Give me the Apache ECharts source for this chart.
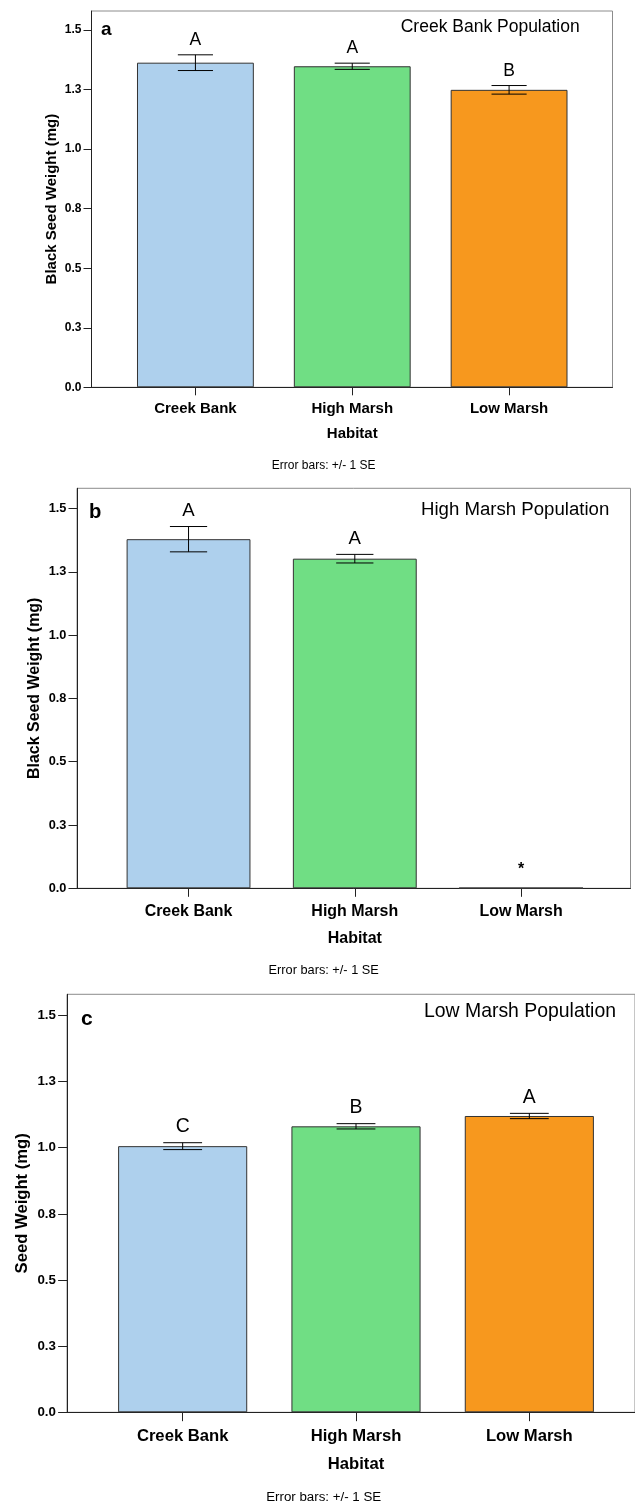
<!DOCTYPE html>
<html><head><meta charset="utf-8">
<script src="https://cdn.jsdelivr.net/npm/echarts@6/dist/echarts.min.js"></script>
<style>html,body{margin:0;padding:0;background:#fff}#c{width:635px;height:1505px}</style>
</head><body><div id="c"></div>
<script>
// ---- data ----
const categories = ['Creek Bank', 'High Marsh', 'Low Marsh'];
const yTicks = [0, 0.25, 0.5, 0.75, 1.0, 1.25, 1.5];
const yMax = 1.58;

const creekPopMeans = [1.363, 1.348, 1.249];
const creekPopSE = [0.033, 0.013, 0.018];
const creekPopLetters = ['A', 'A', 'B'];

const highPopMeans = [1.379, 1.302, 0];
const highPopSE = [0.050, 0.017, 0];
const highPopLetters = ['A', 'A', '*'];

const lowPopMeans = [1.006, 1.081, 1.120];
const lowPopSE = [0.013, 0.010, 0.010];
const lowPopLetters = ['C', 'B', 'A'];

const panelTitles = ['Creek Bank Population', 'High Marsh Population', 'Low Marsh Population'];
const panelTags = ['a', 'b', 'c'];
const yNames = ['Black Seed Weight (mg)', 'Black Seed Weight (mg)', 'Seed Weight (mg)'];
const xName = 'Habitat';
const noteText = 'Error bars: +/- 1 SE';

// ---- styles / layout ----
const barColors = ['#AED0ED', '#70DE84', '#F7981E'];
const FONT = '"Liberation Sans", Arial, Helvetica, sans-serif';

const panels = [
  { means: creekPopMeans, se: creekPopSE, letters: creekPopLetters },
  { means: highPopMeans, se: highPopSE, letters: highPopLetters },
  { means: lowPopMeans, se: lowPopSE, letters: lowPopLetters }
];
const layout = [
  { s: 1,     L: 91.5, T: 11,    R: 612.5, B: 387.3,  dL: 117,   dR: 587.5, yNameGap: 32,   tagX: 101, tagY: 29.5, titleX: 400.7, titleY: 27.5,  noteY: 466 },
  { s: 1.064, L: 77,   T: 488.3, R: 630.5, B: 888.3,  dL: 105.4, dR: 604.2, yNameGap: 34,   tagX: 89,  tagY: 512,  titleX: 421,   titleY: 510.2, noteY: 970.5 },
  { s: 1.11,  L: 67,   T: 994.3, R: 644,   B: 1412.3, dL: 96,    dR: 616,   yNameGap: 35.8, tagX: 81,  tagY: 1019, titleX: 424,   titleY: 1011.8, noteY: 1497.5 }
];

const grid = [], xAxis = [], yAxis = [], series = [], graphic = [];

panels.forEach((p, k) => {
  const g = layout[k], s = g.s;
  const fi = 2 * k, di = 2 * k + 1;
  grid.push({ left: g.L, top: g.T, width: g.R - g.L, height: g.B - g.T,
              show: true, borderColor: '#8c8c8c', borderWidth: 1, backgroundColor: 'transparent' });
  grid.push({ left: g.dL, top: g.T, width: g.dR - g.dL, height: g.B - g.T });

  // frame axes
  xAxis.push({ type: 'category', gridIndex: fi, data: categories,
    axisLine: { show: true, lineStyle: { color: '#222', width: 1 } },
    axisTick: { show: false }, axisLabel: { show: false }, splitLine: { show: false } });
  yAxis.push({ type: 'value', gridIndex: fi, min: 0, max: yMax,
    axisLine: { show: true, lineStyle: { color: '#222', width: 1 } },
    axisTick: { show: true, length: 8 * s, customValues: yTicks, lineStyle: { color: '#222' } },
    axisLabel: { customValues: yTicks, formatter: v => v.toFixed(1), fontFamily: FONT,
                 fontSize: 12 * s, fontWeight: 'bold', color: '#000', margin: 10 * s },
    splitLine: { show: false },
    name: yNames[k], nameLocation: 'middle', nameGap: g.yNameGap, nameMoveOverlap: false,
    nameTextStyle: { fontFamily: FONT, fontSize: 15 * s, fontWeight: 'bold', color: '#000' } });

  // data axes
  xAxis.push({ type: 'category', gridIndex: di, data: categories, boundaryGap: true,
    axisLine: { show: false },
    axisTick: { show: true, alignWithLabel: true, length: 8 * s, lineStyle: { color: '#222' } },
    axisLabel: { fontFamily: FONT, fontSize: 15 * s, fontWeight: 'bold', color: '#000', margin: 14.5 * s },
    name: xName, nameLocation: 'middle', nameGap: 39.5 * s,
    nameTextStyle: { fontFamily: FONT, fontSize: 15 * s, fontWeight: 'bold', color: '#000' } });
  yAxis.push({ type: 'value', gridIndex: di, min: 0, max: yMax, show: false });

  series.push({ type: 'bar', xAxisIndex: di, yAxisIndex: di, barWidth: '74.5%',
    data: p.means.map((m, i) => ({ value: m, itemStyle: { color: barColors[i] } })),
    itemStyle: { borderColor: '#333', borderWidth: 1 }, animation: false, silent: true });

  series.push({ type: 'custom', xAxisIndex: di, yAxisIndex: di, clip: false, z: 5, animation: false, silent: true,
    encode: { x: 0, y: 1 },
    data: p.means.map((m, i) => [i, m, p.se[i]]),
    renderItem: (params, api) => {
      const i = api.value(0), m = api.value(1), e = api.value(2);
      const band = api.size([1, 0])[0];
      const half = band * 0.112;
      const pt = api.coord([i, m + e]), pb = api.coord([i, m - e]);
      const cx = pt[0];
      const st = { stroke: '#000', lineWidth: 1 };
      const ch = [];
      if (e > 0) {
        ch.push({ type: 'line', shape: { x1: cx, y1: pt[1], x2: cx, y2: pb[1] }, style: st });
        ch.push({ type: 'line', shape: { x1: cx - half, y1: pt[1], x2: cx + half, y2: pt[1] }, style: st });
        ch.push({ type: 'line', shape: { x1: cx - half, y1: pb[1], x2: cx + half, y2: pb[1] }, style: st });
      } else {
        const bw = band * 0.745 / 2;
        ch.push({ type: 'line', shape: { x1: cx - bw, y1: pt[1], x2: cx + bw, y2: pt[1] }, style: { stroke: '#333', lineWidth: 1.5 } });
      }
      const lt = p.letters[params.dataIndex];
      if (lt === '*') {
        ch.push({ type: 'text', x: cx, y: pt[1] - 18 * s,
          style: { text: lt, font: 'bold ' + (15 * s) + 'px ' + FONT, fill: '#000', textAlign: 'center', textVerticalAlign: 'middle' } });
      } else if (lt) {
        ch.push({ type: 'text', x: cx, y: pt[1] - 14.5 * s,
          style: { text: lt, font: (17.5 * s) + 'px ' + FONT, fill: '#000', textAlign: 'center', textVerticalAlign: 'middle' } });
      }
      return { type: 'group', children: ch };
    } });

  graphic.push({ type: 'text', x: g.tagX, y: g.tagY,
    style: { text: panelTags[k], font: 'bold ' + (19 * s) + 'px ' + FONT, fill: '#000', textAlign: 'left', textVerticalAlign: 'middle' } });
  graphic.push({ type: 'text', x: g.titleX, y: g.titleY,
    style: { text: panelTitles[k], font: (17.5 * s) + 'px ' + FONT, fill: '#000', textAlign: 'left', textVerticalAlign: 'middle' } });
  graphic.push({ type: 'text', x: 323.7, y: g.noteY,
    style: { text: noteText, font: (12 * s) + 'px ' + FONT, fill: '#000', textAlign: 'center', textVerticalAlign: 'middle' } });
});

const chart = echarts.init(document.getElementById('c'), null, { renderer: 'canvas' });
chart.setOption({ animation: false, backgroundColor: '#fff', grid, xAxis, yAxis, series, graphic });
</script>
</body></html>
